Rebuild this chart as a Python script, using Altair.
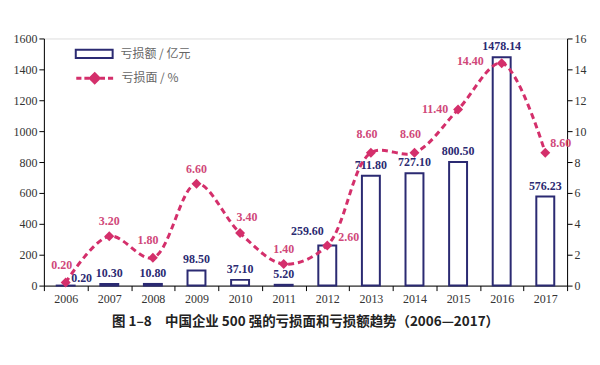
import altair as alt
import pandas as pd

years = ["2006", "2007", "2008", "2009", "2010", "2011", "2012", "2013", "2014", "2015", "2016", "2017"]
loss_amount = [0.20, 10.30, 10.80, 98.50, 37.10, 5.20, 259.60, 711.80, 727.10, 800.50, 1478.14, 576.23]
loss_ratio = [0.20, 3.20, 1.80, 6.60, 3.40, 1.40, 2.60, 8.60, 8.60, 11.40, 14.40, 8.60]
left_ticks = [0, 200, 400, 600, 800, 1000, 1200, 1400, 1600]
right_ticks = [0, 2, 4, 6, 8, 10, 12, 14, 16]

NAVY = "#2b2a72"
CRIMSON = "#d42f6b"
LABEL_PINK = "#d0487a"
SERIF = "Liberation Serif"
CJK = "Noto Sans CJK SC"

df = pd.DataFrame({
    "year": years,
    "amount": loss_amount,
    "ratio": loss_ratio,
})
df["amount_label"] = [f"{v:.2f}" for v in loss_amount]
df["ratio_label"] = [f"{v:.2f}" for v in loss_ratio]

base = alt.Chart(df)

axis_style = dict(
    labelFont=SERIF, labelFontSize=12, labelColor="#333", labelOverlap=False,
    domainColor="#000", tickColor="#000", tickSize=5, grid=False,
)

x_enc = alt.X(
    "year:N",
    sort=years,
    title=None,
    scale=alt.Scale(paddingInner=0, paddingOuter=0),
    axis=alt.Axis(tickBand="extent", labelAngle=0, labelPadding=3, **axis_style),
)

y_left = alt.Y(
    "amount:Q", title=None,
    scale=alt.Scale(domain=[0, 1600]),
    axis=alt.Axis(values=left_ticks, orient="left", format="d", **axis_style),
)
y_right = alt.Y(
    "ratio:Q", title=None,
    scale=alt.Scale(domain=[0, 16]),
    axis=alt.Axis(values=right_ticks, orient="right", format="d", **axis_style),
)

bars = base.transform_calculate(series="'亏损额 / 亿元'").mark_bar(
    width=18, fill="white", strokeWidth=2
).encode(
    x=x_enc,
    y=y_left,
    stroke=alt.Stroke(
        "series:N", title=None,
        scale=alt.Scale(range=[NAVY]),
        legend=alt.Legend(
            orient="none", legendX=31, legendY=-4, padding=0,
            symbolType="M-1,-0.22H1V0.22H-1Z", symbolSize=1369,
            symbolStrokeWidth=2, symbolFillColor="white",
            labelFont=CJK, labelFontSize=12, labelColor="#666", labelOffset=7,
        ),
    ),
)

def amount_text(filter_expr, **kw):
    props = dict(baseline="bottom", font=SERIF, fontSize=12, fontWeight="bold", color=NAVY)
    props.update(kw)
    return base.transform_filter(filter_expr).mark_text(**props).encode(
        x=x_enc, y=y_left, text="amount_label:N"
    )

bar_group = alt.layer(
    bars,
    amount_text("datum.year != '2006' && datum.year != '2012'", dy=-4),
    amount_text("datum.year == '2006'", dx=16, dy=-1),
    amount_text("datum.year == '2012'", dx=-20, dy=-8),
)

line = base.transform_calculate(series2="'亏损面 / %'").mark_line(
    interpolate="catmull-rom", strokeWidth=3, strokeDash=[6, 4]
).encode(
    x=x_enc,
    y=y_right,
    stroke=alt.Stroke(
        "series2:N", title=None,
        scale=alt.Scale(range=[CRIMSON]),
        legend=alt.Legend(
            orient="none", legendX=31, legendY=20, padding=0,
            symbolType="M-1,0H-0.72M-0.56,0H-0.3M0.3,0H0.56M0.72,0H1M0,-0.24L0.24,0L0,0.24L-0.24,0Z",
            symbolSize=1369, symbolStrokeWidth=3, symbolFillColor=CRIMSON,
            labelFont=CJK, labelFontSize=12, labelColor="#666", labelOffset=7,
        ),
    ),
)

points = base.mark_point(shape="diamond", filled=True, size=100, color=CRIMSON, opacity=1).encode(
    x=x_enc, y=y_right
)

def ratio_text(filter_expr, **kw):
    props = dict(font=SERIF, fontSize=12, fontWeight="bold", color=LABEL_PINK)
    props.update(kw)
    return base.transform_filter(filter_expr).mark_text(**props).encode(
        x=x_enc, y=y_right, text="ratio_label:N"
    )

special = ["2006", "2008", "2010", "2012", "2013", "2014", "2015", "2016", "2017"]
special_expr = " && ".join([f"datum.year != '{y}'" for y in special])

ratio_labels = [
    ratio_text(special_expr, dy=-15),
    ratio_text("datum.year == '2006'", dx=-4, dy=-18),
    ratio_text("datum.year == '2008'", dx=-5, dy=-18),
    ratio_text("datum.year == '2010'", dx=7, dy=-16),
    ratio_text("datum.year == '2012'", align="left", dx=11, dy=-8),
    ratio_text("datum.year == '2013' || datum.year == '2014'", dx=-4, dy=-19),
    ratio_text("datum.year == '2015'", align="right", dx=-10, dy=-1),
    ratio_text("datum.year == '2016'", align="right", dx=-18, dy=-2),
    ratio_text("datum.year == '2017'", align="left", dx=5, dy=-10),
]

line_group = alt.layer(line, points, *ratio_labels)

chart = alt.layer(bar_group, line_group).resolve_scale(
    y="independent", stroke="independent"
).properties(
    width=525,
    height=248,
    padding={"left": 5, "top": 24, "right": 6, "bottom": 5},
    title=alt.Title(
        "图 1–8　中国企业 500 强的亏损面和亏损额趋势（2006—2017）",
        orient="bottom", anchor="middle", font=CJK, fontSize=13.5,
        fontWeight="bold", color="#222", offset=11,
    ),
).configure_view(stroke=None).configure(background="white").configure_axis(**axis_style)

chart.save("out.html", embed_options={"renderer": "svg", "actions": False})
